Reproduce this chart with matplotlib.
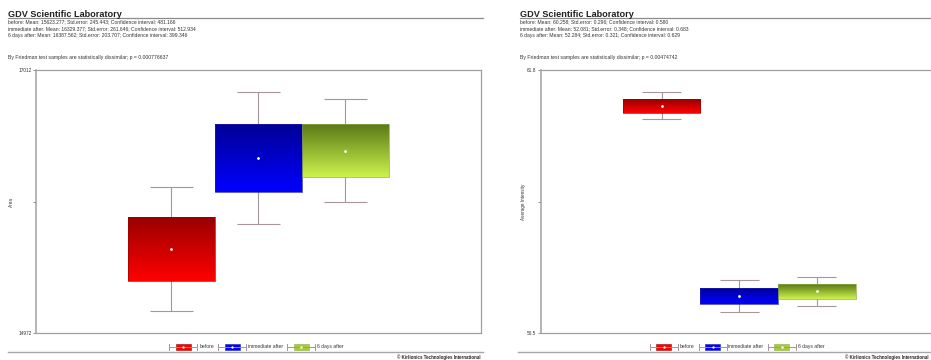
import numpy as np
import matplotlib
matplotlib.use("Agg")
import matplotlib.pyplot as plt
from matplotlib.colors import to_rgb
from matplotlib.patches import Rectangle
from matplotlib.lines import Line2D

# ---------------------------------------------------------------------------
# Data
# ---------------------------------------------------------------------------

groups = ["before", "immediate after", "6 days after"]

area_mean = [15623.277, 16329.377, 16387.562]
area_se = [245.443, 261.646, 203.707]
area_ci = [481.166, 512.934, 399.346]
area_limits = [14972, 17012]
area_tick_labels = ["14972", "17012"]
area_p = "0.000776637"

intensity_mean = [60.258, 52.081, 52.284]
intensity_se = [0.296, 0.348, 0.321]
intensity_ci = [0.580, 0.683, 0.629]
intensity_limits = [50.5, 61.8]
intensity_tick_labels = ["50.5", "61.8"]
intensity_p = "0.00474742"

# ---------------------------------------------------------------------------
# Styling
# ---------------------------------------------------------------------------

W, H = 931, 360
plt.rcParams["font.family"] = ["Liberation Sans", "DejaVu Sans"]

top_colors = ["#990000", "#000096", "#5a7a16"]
bottom_colors = ["#ff0000", "#0000ff", "#ccf24c"]
edge_colors = ["#a00000", "#2020a8", "#8ea848"]
whisker_color = "#a8949c"
frame_color = "#a0a0a0"
text_color = "#333333"

fig = plt.figure(figsize=(W / 100, H / 100), dpi=100)
fig.patch.set_facecolor("white")


def fx(x):
    return x / W


def fy(y):
    return 1 - y / H


def px_rect(x0, y0, x1, y1):
    return [x0 / W, 1 - y1 / H, (x1 - x0) / W, (y1 - y0) / H]


def gradient(c_top, c_bottom, n=64):
    t = np.linspace(0, 1, n)[:, None]
    a, b = np.array(to_rgb(c_top)), np.array(to_rgb(c_bottom))
    return (a * (1 - t) + b * t)[:, None, :]


def header(x0, x1, means, ses, cis, p):
    fig.text(fx(x0), fy(17), "GDV Scientific Laboratory", fontsize=6.6,
             fontweight="bold", color="#222222", va="baseline")
    fig.add_artist(Line2D([fx(x0), fx(x1)], [fy(17.5), fy(17.5)],
                          color="#8c8c8c", lw=0.9))
    for i, (g, m, s, c) in enumerate(zip(groups, means, ses, cis)):
        line = f"{g}: Mean: {m:.3f}; Std.error: {s:.3f}; Confidence interval: {c:.3f}"
        fig.text(fx(x0), fy(22 + 6.7 * i), line, fontsize=3.65,
                 color=text_color, va="center")
    fig.text(fx(x0), fy(57), f"By Friedman test samples are statistically dissimilar; p = {p}",
             fontsize=3.7, color=text_color, va="center")


def footer(x0, x1, cx, copy_right):
    fig.add_artist(Line2D([fx(x0), fx(x1)], [fy(351.5), fy(351.5)],
                          color="#a8a8a8", lw=1.0))
    fig.text(fx(copy_right), fy(357), "\u00a9 Kirlionics Technologies International",
             fontsize=3.25, fontweight="bold", color="#222222", ha="right", va="center")

    # legend: whisker + box swatch per group, then its name
    renderer = fig.canvas.get_renderer()
    widths = []
    for g in groups:
        t = fig.text(0, 0, g, fontsize=3.6)
        widths.append(t.get_window_extent(renderer).width)
        t.remove()
    item_w = [28 + 2 + w + 4 for w in widths]
    x = cx - sum(item_w) / 2
    y = 346.5
    for i, g in enumerate(groups):
        fig.add_artist(Line2D([fx(x), fx(x + 28)], [fy(y), fy(y)], color=whisker_color, lw=0.7))
        for cap in (x, x + 28):
            fig.add_artist(Line2D([fx(cap), fx(cap)], [fy(y - 3), fy(y + 3)],
                                  color=whisker_color, lw=0.7))
        fig.add_artist(Rectangle((fx(x + 6.5), fy(y + 3)), 15 / W, 6 / H,
                                 facecolor=bottom_colors[i] if i != 2 else "#a8cc38",
                                 edgecolor=edge_colors[i], lw=0.4,
                                 transform=fig.transFigure))
        fig.add_artist(Line2D([fx(x + 14)], [fy(y)], marker="o", ms=0.7,
                              color="white", mec="white"))
        fig.text(fx(x + 30), fy(y), g, fontsize=3.6, color=text_color, va="center")
        x += item_w[i]


def panel(rect_px, means, ses, cis, limits, tick_labels, ylabel, xlim, label_x):
    ax = fig.add_axes(px_rect(*rect_px))
    pos = np.arange(1, len(groups) + 1)
    means = np.array(means)
    ses = np.array(ses)
    cis = np.array(cis)

    # whiskers: mean +/- confidence interval
    ax.vlines(pos, means - cis, means + cis, color=whisker_color, lw=0.8, zorder=1)
    ax.hlines(means - cis, pos - 0.25, pos + 0.25, color=whisker_color, lw=0.8, zorder=1)
    ax.hlines(means + cis, pos - 0.25, pos + 0.25, color=whisker_color, lw=0.8, zorder=1)

    # boxes: mean +/- standard error, filled with a vertical gradient
    bars = ax.bar(pos, 2 * ses, bottom=means - ses, width=1.0,
                  color="none", edgecolor=edge_colors, lw=0.5, zorder=3)
    for i, b in enumerate(bars):
        img = ax.imshow(gradient(top_colors[i], bottom_colors[i]),
                        extent=[b.get_x(), b.get_x() + b.get_width(),
                                b.get_y(), b.get_y() + b.get_height()],
                        aspect="auto", origin="upper", zorder=2, interpolation="bilinear")
        img.set_clip_path(b)

    ax.plot(pos, means, "o", ms=1.0, color="white", mec="white", zorder=4)

    ax.set_xlim(*xlim)
    ax.set_ylim(*limits)
    ax.set_xticks([])
    mid = (limits[0] + limits[1]) / 2
    ax.set_yticks([limits[0], mid, limits[1]])
    ax.set_yticklabels([tick_labels[0], "", tick_labels[1]], fontsize=3.4, color=text_color)
    ax.tick_params(axis="y", length=2, width=0.6, color="#808080", pad=1.2)
    for s in ax.spines.values():
        s.set_color(frame_color)
        s.set_linewidth(0.9)
    ax.spines["left"].set_linewidth(1.1)
    ax.set_ylabel(ylabel, fontsize=3.3, color=text_color)
    ax.yaxis.set_label_coords((label_x - rect_px[0]) / (rect_px[2] - rect_px[0]), 0.5)
    return ax


# left panel: area
header(8, 483, area_mean, area_se, area_ci, area_p)
panel((36, 70, 481, 333), area_mean, area_se, area_ci, area_limits,
      area_tick_labels, "Area", (-0.557, 4.558), 14)
footer(8, 483, 258.5, 481)

# right panel: average intensity
header(520, 1000, intensity_mean, intensity_se, intensity_ci, intensity_p)
panel((541, 70, 937, 333), intensity_mean, intensity_se, intensity_ci, intensity_limits,
      intensity_tick_labels, "Average Intensity", (-0.551, 4.546), 526)
footer(518, 1000, 739, 929)

fig.savefig("out.png", dpi=100)
